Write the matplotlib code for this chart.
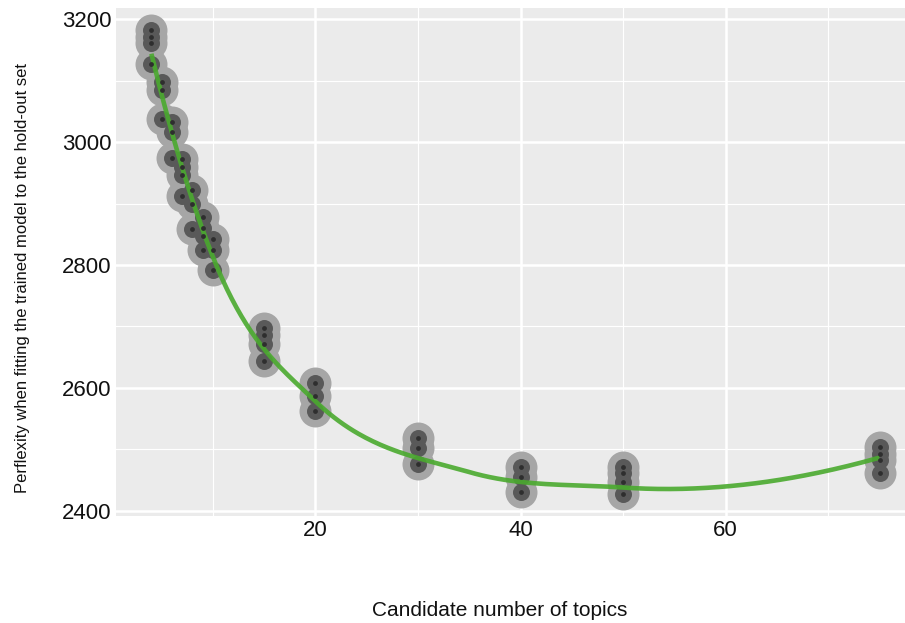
import numpy as np
import matplotlib
matplotlib.use('Agg')
import matplotlib.pyplot as plt

plt.rcParams['font.family'] = ['Liberation Sans', 'DejaVu Sans']

# candidate number of topics and perplexity of each run
topics = [4, 4, 4, 4,
          5, 5, 5,
          6, 6, 6,
          7, 7, 7, 7,
          8, 8, 8,
          9, 9, 9, 9,
          10, 10, 10,
          15, 15, 15, 15,
          20, 20, 20,
          30, 30, 30,
          40, 40, 40,
          50, 50, 50, 50,
          75, 75, 75, 75]
perplexity = [3182, 3172, 3162, 3127,
              3098, 3085, 3038,
              3033, 3016, 2975,
              2972, 2959, 2946, 2913,
              2922, 2900, 2858,
              2878, 2860, 2848, 2825,
              2842, 2825, 2792,
              2698, 2686, 2672, 2643,
              2608, 2586, 2562,
              2518, 2502, 2476,
              2471, 2455, 2430,
              2471, 2462, 2446, 2427,
              2503, 2492, 2482, 2462]

x = np.array(topics, dtype=float)
y = np.array(perplexity, dtype=float)


def local_fit(x0, span=0.75):
    # local quadratic fit with tricube weights, returns value and slope
    n = len(x)
    q = int(np.floor(n * span))
    d = np.abs(x - x0)
    h = np.sort(d)[q - 1] * 1.0001
    w = np.clip(1 - (d / h) ** 3, 0, 1) ** 3
    X = np.vstack([np.ones(n), x - x0, (x - x0) ** 2]).T
    sw = np.sqrt(w)
    beta = np.linalg.lstsq(X * sw[:, None], y * sw, rcond=None)[0]
    return beta[0], beta[1]


def kd_split(xsort, l, u, fc, verts):
    if u - l + 1 <= fc:
        return
    m = (l + u) // 2
    v = (xsort[m] + xsort[m + 1]) / 2
    if v <= xsort[l] and v >= xsort[u]:
        return
    verts.append(v)
    kd_split(xsort, l, m, fc, verts)
    kd_split(xsort, m + 1, u, fc, verts)


def loess(xs, span=0.75):
    # loess surface interpolated between kd-tree vertices (as in R)
    xsort = np.sort(x)
    mu = 0.005 * (xsort[-1] - xsort[0])
    verts = [xsort[0] - mu, xsort[-1] + mu]
    fc = int(np.floor(len(x) * span * 0.2))
    kd_split(xsort, 0, len(x) - 1, fc, verts)
    verts = np.unique(verts)
    vals = np.array([local_fit(v, span) for v in verts])
    out = []
    for x0 in xs:
        i = min(np.searchsorted(verts, x0) - 1, len(verts) - 2)
        i = max(i, 0)
        x1, x2 = verts[i], verts[i + 1]
        hh = x2 - x1
        t = (x0 - x1) / hh
        y1, d1 = vals[i]
        y2, d2 = vals[i + 1]
        h00 = 2 * t**3 - 3 * t**2 + 1
        h10 = t**3 - 2 * t**2 + t
        h01 = -2 * t**3 + 3 * t**2
        h11 = t**3 - t**2
        out.append(h00 * y1 + h10 * hh * d1 + h01 * y2 + h11 * hh * d2)
    return np.array(out)


xs = np.linspace(x.min(), x.max(), 300)
ys = loess(xs)

fig = plt.figure(figsize=(9.05, 6.23), dpi=100)
ax = fig.add_axes([116 / 905, 1 - 516 / 623, 800 / 905, 508 / 623])
ax.set_facecolor('#ebebeb')

ax.scatter(x, y, s=530, color='#a6a6a6', linewidths=0, zorder=2)
ax.scatter(x, y, s=150, color='#595959', linewidths=0, zorder=3)
ax.plot(xs, ys, color='#4aaa2e', lw=3.3, alpha=0.9, zorder=4, solid_capstyle='butt')
ax.scatter(x, y, s=12, color='#2e2e2e', linewidths=0, zorder=5)

ax.set_xlim(0.55, 78.55)
ax.set_ylim(2391.3, 3218.5)
ax.set_xticks([20, 40, 60])
ax.set_xticks([10, 30, 50, 70], minor=True)
ax.set_yticks([2400, 2600, 2800, 3000, 3200])
ax.set_yticks([2500, 2700, 2900, 3100], minor=True)
ax.grid(which='major', color='white', lw=1.8, zorder=0)
ax.grid(which='minor', color='white', lw=0.8, zorder=0)
ax.set_axisbelow(True)
for s in ax.spines.values():
    s.set_visible(False)
ax.tick_params(which='both', length=0, labelsize=16, colors='#111111', pad=3)

fig.text(500 / 905, 1 - 610 / 623, 'Candidate number of topics',
         ha='center', va='center', fontsize=15, color='#111111')
fig.text(23 / 905, 1 - 278 / 623,
         'Perflexity when fitting the trained model to the hold-out set',
         ha='center', va='center', rotation=90, fontsize=12, color='#111111')

plt.savefig('out.png', dpi=100)
